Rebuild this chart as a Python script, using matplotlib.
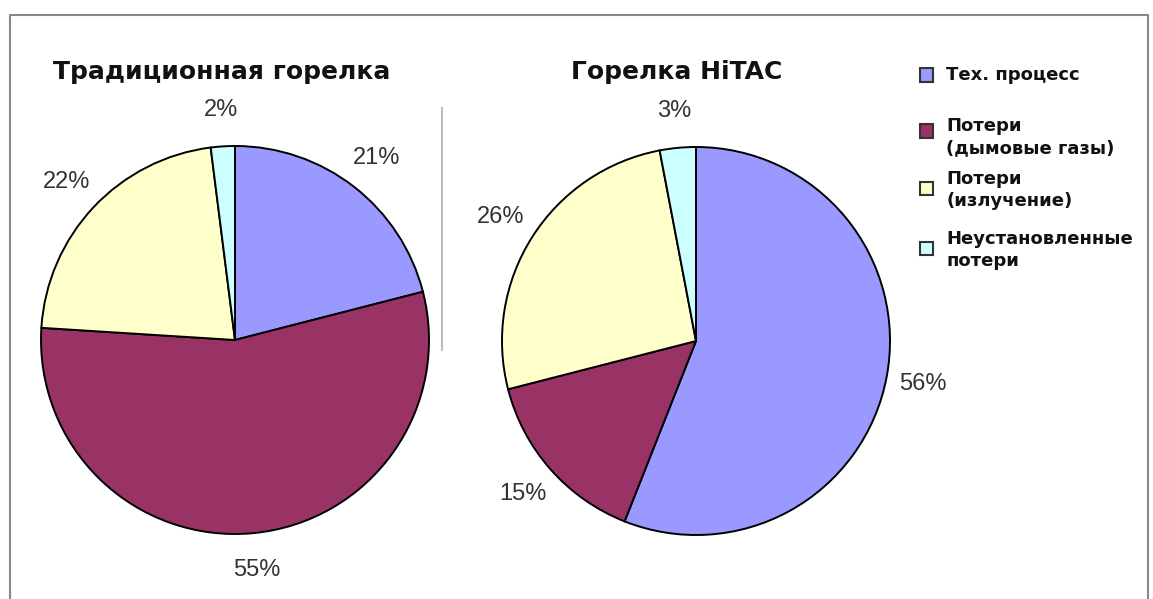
import matplotlib.pyplot as plt
from matplotlib.patches import Rectangle
from matplotlib.lines import Line2D

# данные
categories = ["Тех. процесс", "Потери\n(дымовые газы)", "Потери\n(излучение)", "Неустановленные\nпотери"]
traditional = [21, 55, 22, 2]
hitac = [56, 15, 26, 3]
titles = ["Традиционная горелка", "Горелка HiTAC"]
colors = ["#9999FF", "#993366", "#FFFFCC", "#CCFFFF"]

W, H = 1153, 599
fig = plt.figure(figsize=(W / 100, H / 100), dpi=100)
fig.patch.set_facecolor("white")

r = 194


def pie_axes(cx, cy):
    return fig.add_axes([(cx - r) / W, 1 - (cy + r) / H, 2 * r / W, 2 * r / H])


for (cx, cy), vals, title, tx in [((235, 340), traditional, titles[0], 222),
                                  ((696, 341), hitac, titles[1], 677)]:
    ax = pie_axes(cx, cy)
    wedges, texts, autotexts = ax.pie(vals, colors=colors, startangle=90, counterclock=False,
                                      autopct="%d%%", pctdistance=1.19,
                                      wedgeprops=dict(edgecolor="black", linewidth=1.4))
    for t in autotexts:
        t.set_fontsize(17)
        t.set_family("Liberation Sans")
        t.set_color("#333333")
        t.set_clip_on(False)
    ax.set_xlim(-1, 1)
    ax.set_ylim(-1, 1)
    ax.set_aspect("equal")
    ax.axis("off")
    for w in wedges:
        w.set_clip_on(False)
    fig.text(tx / W, 1 - 72 / H, title, ha="center", va="center",
             fontsize=18, fontweight="bold", family="DejaVu Sans", color="#111111")

# разделитель
fig.add_artist(Line2D([442 / W, 442 / W], [1 - 108 / H, 1 - 350 / H], color="#BBBBBB", lw=1.5))

# рамка
fig.add_artist(Line2D([10 / W, 10 / W, 1148 / W, 1148 / W],
                      [0, 1 - 15 / H, 1 - 15 / H, 0], color="#888888", lw=1.5))

# легенда
box_y = [75, 131, 188, 248]
text_y = [75, 137, 190, 250]
for lab, c, by, ty in zip(categories, colors, box_y, text_y):
    fig.add_artist(Rectangle((920 / W, 1 - (by + 6.5) / H), 13 / W, 13 / H, facecolor=c,
                             edgecolor="#333333", lw=1.5, transform=fig.transFigure))
    fig.text(946 / W, 1 - ty / H, lab, ha="left", va="center", fontsize=13,
             fontweight="bold", family="DejaVu Sans", color="#111111", linespacing=1.35)

fig.savefig("out.png", dpi=100)
